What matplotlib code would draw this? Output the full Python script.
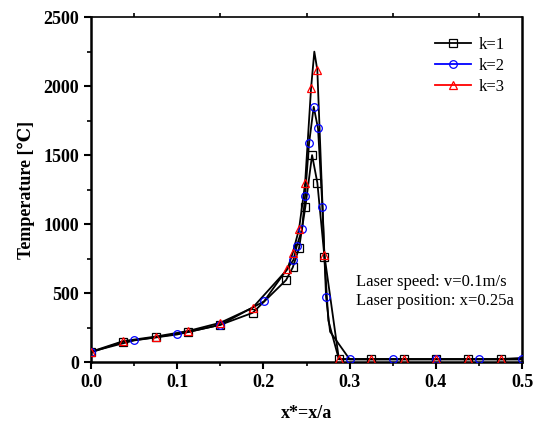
import matplotlib.pyplot as plt
from matplotlib.lines import Line2D
from matplotlib.ticker import MultipleLocator

plt.rcParams['font.family'] = ['Liberation Serif', 'DejaVu Serif']

# k=1 (squares)
x1 = [0, 0.0375, 0.075, 0.1125, 0.15, 0.1875, 0.2262, 0.234, 0.2413, 0.2486, 0.2564, 0.2625, 0.2707,
      0.2753, 0.2875, 0.325, 0.3625, 0.4, 0.4375, 0.475, 0.5]
t1 = [70, 148, 180, 218, 270, 357, 594, 686, 826, 1125, 1500, 1300, 765,
      300, 20, 20, 20, 20, 20, 20, 20]
m1 = [0, 1, 2, 3, 4, 5, 6, 7, 8, 9, 10, 11, 12, 14, 15, 16, 17, 18, 19]

# k=2 (circles)
x2 = [0, 0.05, 0.1, 0.15, 0.2007, 0.2347, 0.2386, 0.2448, 0.2483, 0.2529, 0.2583, 0.2633, 0.2684,
      0.2726, 0.2773, 0.3, 0.35, 0.4, 0.45, 0.5]
t2 = [75, 157, 200, 270, 440, 739, 840, 964, 1205, 1585, 1850, 1693, 1125,
      473, 220, 20, 20, 20, 20, 20]
m2 = [0, 1, 2, 3, 4, 5, 6, 7, 8, 9, 10, 11, 12, 13, 15, 16, 17, 18, 19]

# k=3 (triangles)
x3 = [0, 0.0375, 0.075, 0.1125, 0.15, 0.1875, 0.2277, 0.234, 0.2413, 0.2483, 0.2552, 0.259, 0.2625,
      0.2707, 0.2875, 0.325, 0.3625, 0.4, 0.4375, 0.475, 0.5]
t3 = [75, 152, 185, 225, 285, 394, 672, 792, 964, 1295, 1983, 2250, 2116,
      775, 22, 22, 22, 22, 22, 22, 30]
m3 = [0, 1, 2, 3, 4, 5, 6, 7, 8, 9, 10, 12, 13, 14, 15, 16, 17, 18, 19]

fig = plt.figure(figsize=(5.35, 4.28), dpi=100)
ax = fig.add_axes([0.170, 0.154, 0.806, 0.806])

series = [(x1, t1, m1, 's', 'black', 'k=1'),
          (x2, t2, m2, 'o', 'blue', 'k=2'),
          (x3, t3, m3, '^', 'red', 'k=3')]
handles = []
for xs, ts, mk, marker, color, label in series:
    ax.plot(xs, ts, color='black', lw=1.3, zorder=2)
    ax.plot([xs[i] for i in mk], [ts[i] for i in mk], ls='none', marker=marker,
            ms=5.5, mfc='none', mec=color, mew=0.9, zorder=3)
    handles.append(Line2D([], [], color=color, lw=1.3, marker=marker, ms=5.5,
                          mfc='none', mec=color, mew=0.9, label=label))

ax.legend(handles=handles, loc='upper right', bbox_to_anchor=(0.995, 0.985), frameon=False,
          fontsize=12, handlelength=2.2, handletextpad=0.45, labelspacing=0.3)

ax.text(0.614, 0.255, 'Laser speed: v=0.1m/s\nLaser position: x=0.25a',
        transform=ax.transAxes, fontsize=12, linespacing=1.25, va='top')

ax.set_xlim(0, 0.5)
ax.set_ylim(0, 2500)
ax.xaxis.set_major_locator(MultipleLocator(0.1))
ax.xaxis.set_minor_locator(MultipleLocator(0.05))
ax.yaxis.set_major_locator(MultipleLocator(500))
ax.yaxis.set_minor_locator(MultipleLocator(250))
ax.tick_params(which='major', direction='out', length=5, width=1.5, labelsize=13)
ax.tick_params(which='minor', direction='out', length=3, width=1.2)
ax.tick_params(axis='x', which='minor', top=True)
ax.xaxis.set_major_formatter(plt.FuncFormatter(lambda v, p: f'{v:.1f}'))
for lab in ax.get_xticklabels() + ax.get_yticklabels():
    lab.set_fontweight('bold')
for s in ['left', 'bottom', 'right']:
    ax.spines[s].set_linewidth(1.8)
ax.spines['top'].set_linewidth(1.2)

ax.set_xlabel('x*=x/a', fontsize=13, fontweight='bold', labelpad=10)
ax.set_ylabel('Temperature [\u2103]', fontsize=13, fontweight='bold', labelpad=6)

fig.savefig('out.png', dpi=100)
